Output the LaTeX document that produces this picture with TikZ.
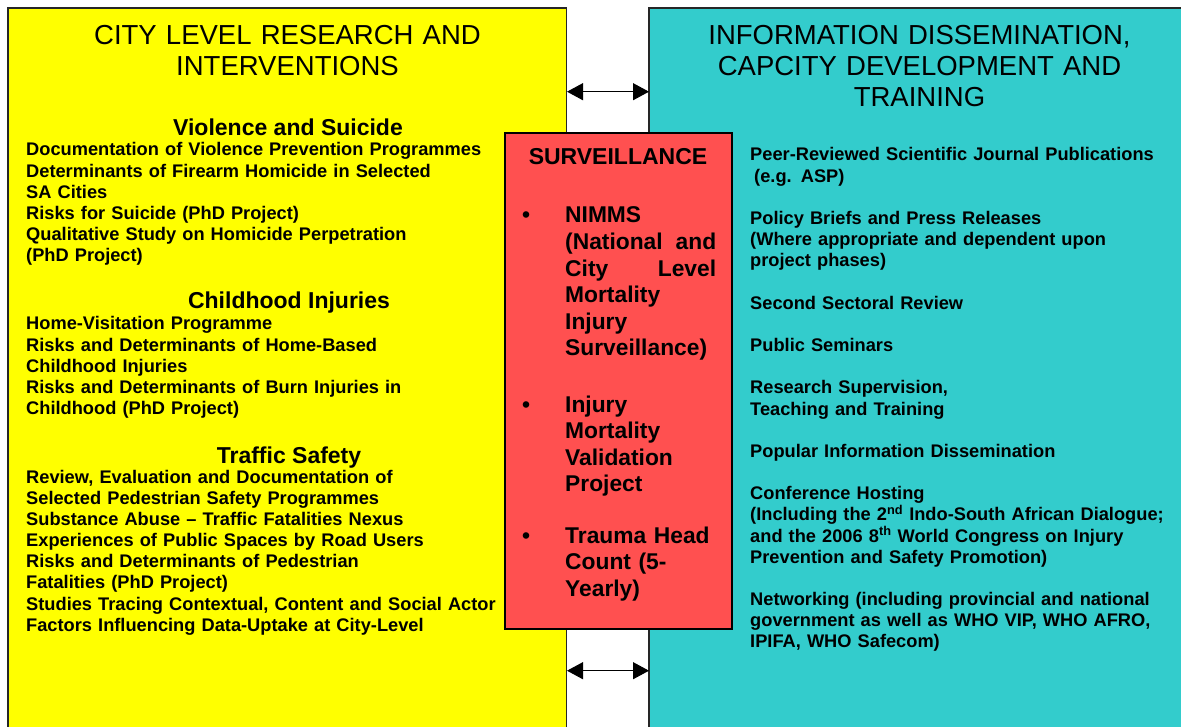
\documentclass[tikz,border=0pt]{standalone}
\usepackage{fontspec}
\setmainfont{Liberation Sans}
\usetikzlibrary{arrows.meta}
\definecolor{cyellow}{RGB}{255,255,0}
\definecolor{ccyan}{RGB}{51,204,204}
\definecolor{cred}{RGB}{255,80,80}
\tikzset{
 panel/.style={draw=black!85, line width=1.3pt, inner sep=0pt, outer sep=0pt, anchor=north west},
 titletext/.style={font=\fontsize{27.5}{31}\selectfont, align=center, text width=520pt, anchor=base, inner sep=0pt},
 headtext/.style={font=\bfseries\fontsize{23}{26}\selectfont, anchor=base, inner sep=0pt},
 bodytext/.style={font=\bfseries\fontsize{18.25}{21.17}\selectfont, align=left, text width=500pt, anchor=base west, inner sep=0pt},
 bullettext/.style={font=\bfseries\fontsize{22.8}{26.6}\selectfont, align=left, text width=151pt, anchor=base west, inner sep=0pt},
 bulletdot/.style={font=\bfseries\fontsize{22.8}{26.6}\selectfont, anchor=base, inner sep=0pt},
 biarrow/.style={{Triangle[length=16pt,width=17pt]}-{Triangle[length=16pt,width=17pt]}, line width=1.1pt},
}
\begin{document}
\begin{tikzpicture}[x=1pt,y=-1pt]
\useasboundingbox (0,0) rectangle (1181,727);
\clip (0,0) rectangle (1181,727);
\fill[white] (0,0) rectangle (1181,727);
% panels
\node[panel, fill=cyellow, minimum width=558.5pt, minimum height=740pt] (city) at (8,8) {};
\node[panel, fill=ccyan, minimum width=560pt, minimum height=740pt] (info) at (649,8) {};
% arrows
\coordinate (ya) at (567,91.7);
\coordinate (ca) at (649,91.7);
\coordinate (yb) at (567,670.7);
\coordinate (cb) at (649,670.7);
\draw[biarrow] (ya) -- (ca);
\draw[biarrow] (yb) -- (cb);
% red box
\node[panel, fill=cred, draw=black, minimum width=227pt, minimum height=496pt] (surv) at (505,133) {};
% titles
\node[titletext] (t1) at (287.5,45) {CITY LEVEL RESEARCH AND\\INTERVENTIONS};
\node[titletext] (t2) at (919.5,45) {INFORMATION DISSEMINATION,\\CAPCITY DEVELOPMENT AND\\TRAINING};
% left headings and lists
\node[headtext] (h1) at (288,136) {Violence and Suicide};
\node[bodytext] (l1) at (26,156) {Documentation of Violence Prevention Programmes\\
Determinants of Firearm Homicide in Selected\\
SA Cities\\
Risks for Suicide (PhD Project)\\
Qualitative Study on Homicide Perpetration\\
(PhD Project)};
\node[headtext] (h2) at (289,309) {Childhood Injuries};
\node[bodytext] (l2) at (26,330) {Home-Visitation Programme\\
Risks and Determinants of Home-Based\\
Childhood Injuries\\
Risks and Determinants of Burn Injuries in\\
Childhood (PhD Project)};
\node[headtext] (h3) at (289,463) {Traffic Safety};
\node[bodytext] (l3) at (26,483) {Review, Evaluation and Documentation of\\
Selected Pedestrian Safety Programmes\\
Substance Abuse – Traffic Fatalities Nexus\\
Experiences of Public Spaces by Road Users\\
Risks and Determinants of Pedestrian\\
Fatalities (PhD Project)\\
Studies Tracing Contextual, Content and Social Actor\\
Factors Influencing Data-Uptake at City-Level};
% surveillance
\node[headtext] (sh) at (618,165) {SURVEILLANCE};
\node[bulletdot] (d1) at (526,223) {•};
\node[bullettext] (b1) at (565,223) {NIMMS\\
(National\hfill and\\
City\hfill Level\\
Mortality\\
Injury\\
Surveillance)};
\node[bulletdot] (d2) at (526,412) {•};
\node[bullettext] (b2) at (565,412) {Injury\\
Mortality\\
Validation\\
Project};
\node[bulletdot] (d3) at (526,543) {•};
\node[bullettext] (b3) at (565,543) {Trauma Head\\
Count (5-\\
Yearly)};
% right list
\node[bodytext, text width=425pt] (r1) at (750,161) {Peer-Reviewed Scientific Journal Publications\\
\hspace*{4pt}(e.g. ASP)\\[21.17pt]
Policy Briefs and Press Releases\\
(Where appropriate and dependent upon\\
project phases)\\[21.17pt]
Second Sectoral Review\\[21.17pt]
Public Seminars\\[21.17pt]
Research Supervision,\\
Teaching and Training\\[21.17pt]
Popular Information Dissemination\\[21.17pt]
Conference Hosting\\
(Including the 2\textsuperscript{nd} Indo-South African Dialogue;\\
and the 2006 8\textsuperscript{th} World Congress on Injury\\
Prevention and Safety Promotion)\\[21.17pt]
Networking (including provincial and national\\
government as well as WHO VIP, WHO AFRO,\\
IPIFA, WHO Safecom)};
\end{tikzpicture}
\end{document}
